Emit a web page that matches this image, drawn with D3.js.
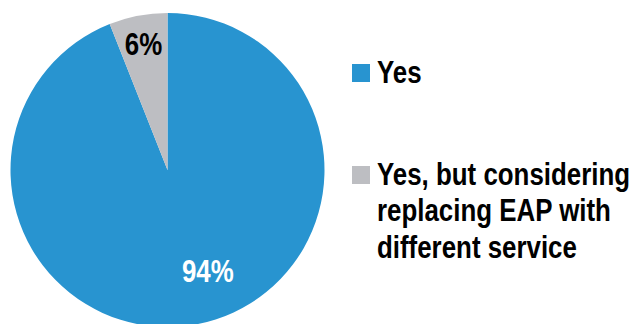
<!DOCTYPE html>
<html>
<head>
<meta charset="utf-8">
<script src="https://cdn.jsdelivr.net/npm/d3@7"></script>
<style>
  body { margin: 0; background: #fff; }
  text { font-family: "Liberation Sans", Arial, sans-serif; font-weight: bold; }
</style>
</head>
<body>
<div id="chart"></div>
<script>
// chart values
const categories = ["Yes", "Yes, but considering replacing EAP with different service"]
const shares = [94, 6]
const sliceLabels = ["94%", "6%"]
const legendLines = [["Yes"], ["Yes, but considering", "replacing EAP with", "different service"]]
const colors = ["#2894d0", "#bdbec2"]

window.onload = setup

function setup () {
    const width = 636, height = 324
    const cx = 167.5, cy = 170, r = 157
    const narrow = 0.835 // no narrow font installed, squeeze instead

    const svg = d3.create('svg')
        .attr('width', width)
        .attr('height', height)

    const rows = categories.map((c, i) => ({cat: c, value: shares[i], label: sliceLabels[i], color: colors[i], lines: legendLines[i]}))

    const pie = d3.pie().sort(null).value(d => d.value)
    const arcs = pie(rows)
    const arc = d3.arc().innerRadius(0).outerRadius(r)

    const g = svg.append('g').attr('transform', `translate(${cx},${cy})`)

    g.selectAll('path')
        .data(arcs)
        .join('path')
        .attr('d', arc)
        .attr('fill', d => d.data.color)

    // label placement roughly like excel's best fit
    const labelPos = d => {
        const big = (d.endAngle - d.startAngle) > Math.PI
        const rad = big ? 109 : 128
        const a = big ? (d.startAngle + d.endAngle) / 2 - 0.19 : (d.startAngle + d.endAngle) / 2
        return [Math.sin(a) * rad, -Math.cos(a) * rad]
    }

    g.selectAll('text.lbl')
        .data(arcs)
        .join('text')
        .attr('class', 'lbl')
        .attr('transform', d => `translate(${labelPos(d)[0]},${labelPos(d)[1]}) scale(${narrow},1)`)
        .attr('dy', '0.36em')
        .attr('text-anchor', 'middle')
        .attr('font-size', 31)
        .attr('fill', d => d.data.value > 50 ? '#fff' : '#000')
        .text(d => d.data.label)

    // legend
    const legendY = d3.scalePoint().domain(categories).range([83, 185])
    const leg = svg.append('g').selectAll('g')
        .data(rows)
        .join('g')
        .attr('transform', d => `translate(352,${legendY(d.cat)})`)

    leg.append('rect')
        .attr('x', 0)
        .attr('y', -19)
        .attr('width', 18)
        .attr('height', 18)
        .attr('fill', d => d.color)

    leg.append('text')
        .attr('transform', `translate(25,0) scale(${narrow},1)`)
        .attr('font-size', 31)
        .attr('fill', '#000')
        .selectAll('tspan')
        .data(d => d.lines)
        .join('tspan')
        .attr('x', 0)
        .attr('dy', (t, i) => i === 0 ? 0 : 36.5)
        .text(t => t)

    document.querySelector('#chart').appendChild(svg.node())
}
</script>
</body>
</html>
